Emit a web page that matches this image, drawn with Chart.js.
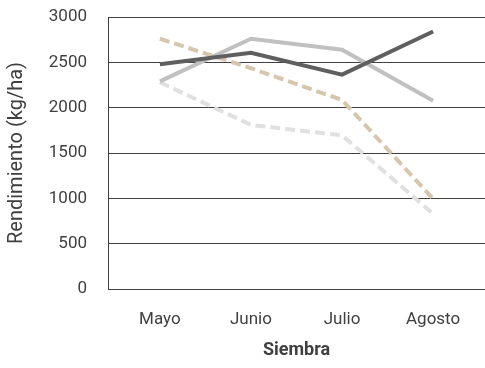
<!DOCTYPE html>
<html>
<head>
<meta charset="utf-8">
<script src="https://cdn.jsdelivr.net/npm/chart.js@4"></script>
<style>
  html, body { margin: 0; padding: 0; background: #fff; }
  #wrap { width: 485px; height: 368px; }
</style>
</head>
<body>
<div id="wrap"><canvas id="myChart" width="485" height="368"></canvas></div>
<script>
const meses = ["Mayo", "Junio", "Julio", "Agosto"];

const serieOscura = [2480, 2605, 2365, 2840];
const serieClara = [2290, 2760, 2640, 2075];
const serieBeige = [2760, 2435, 2085, 995];
const serieTenue = [2280, 1810, 1695, 830];

const ctx = document.querySelector("#myChart");
const fuente = "Roboto, 'DejaVu Sans', sans-serif";
const gris = "#404040";

const toPoints = (vals) => vals.map((v, i) => ({ x: i, y: v }));

const linea = (vals, color, dash) => ({
  data: toPoints(vals),
  borderColor: color,
  borderWidth: 4,
  borderDash: dash,
  pointRadius: 0,
  tension: 0,
  fill: false,
});

const config = {
  type: "line",
  data: {
    datasets: [
      linea(serieOscura, "#5f5f5f", []),
      linea(serieClara, "#c0c0c0", []),
      linea(serieBeige, "#d5c6ad", [10, 5]),
      linea(serieTenue, "#e0e0e0", [10, 5]),
    ],
  },
  options: {
    responsive: false,
    animation: false,
    layout: { padding: { top: 17, right: 0, left: 0, bottom: 0 } },
    plugins: { legend: { display: false }, tooltip: { enabled: false } },
    scales: {
      x: {
        type: "linear",
        min: -0.57,
        max: 3.57,
        afterBuildTicks: (scale) => {
          scale.ticks = meses.map((m, i) => ({ value: i }));
        },
        afterFit: (scale) => { scale.height = 79; },
        grid: { display: false, drawTicks: false },
        border: { display: false },
        ticks: {
          padding: 21,
          color: gris,
          font: { family: fuente, size: 17 },
          callback: (v) => meses[v],
        },
        title: {
          display: true,
          text: "Siembra",
          color: gris,
          font: { family: fuente, size: 18, weight: "bold" },
          padding: { top: 4, bottom: 7 },
        },
      },
      y: {
        min: 0,
        max: 3000,
        afterFit: (scale) => { scale.width = 108; },
        ticks: {
          stepSize: 500,
          padding: 0,
          color: gris,
          font: { family: fuente, size: 17 },
          callback: (v) => String(v),
        },
        // invisible tick marks keep the labels away from the axis line
        grid: { color: gris, lineWidth: 1, drawTicks: true, tickLength: 21, tickColor: "rgba(0,0,0,0)" },
        border: { display: true, color: gris, width: 1 },
        title: {
          display: true,
          text: "Rendimiento (kg/ha)",
          color: gris,
          font: { family: fuente, size: 20 },
          padding: { top: 5, bottom: 0 },
        },
      },
    },
  },
};

const chart = new Chart(ctx, config);
</script>
</body>
</html>
